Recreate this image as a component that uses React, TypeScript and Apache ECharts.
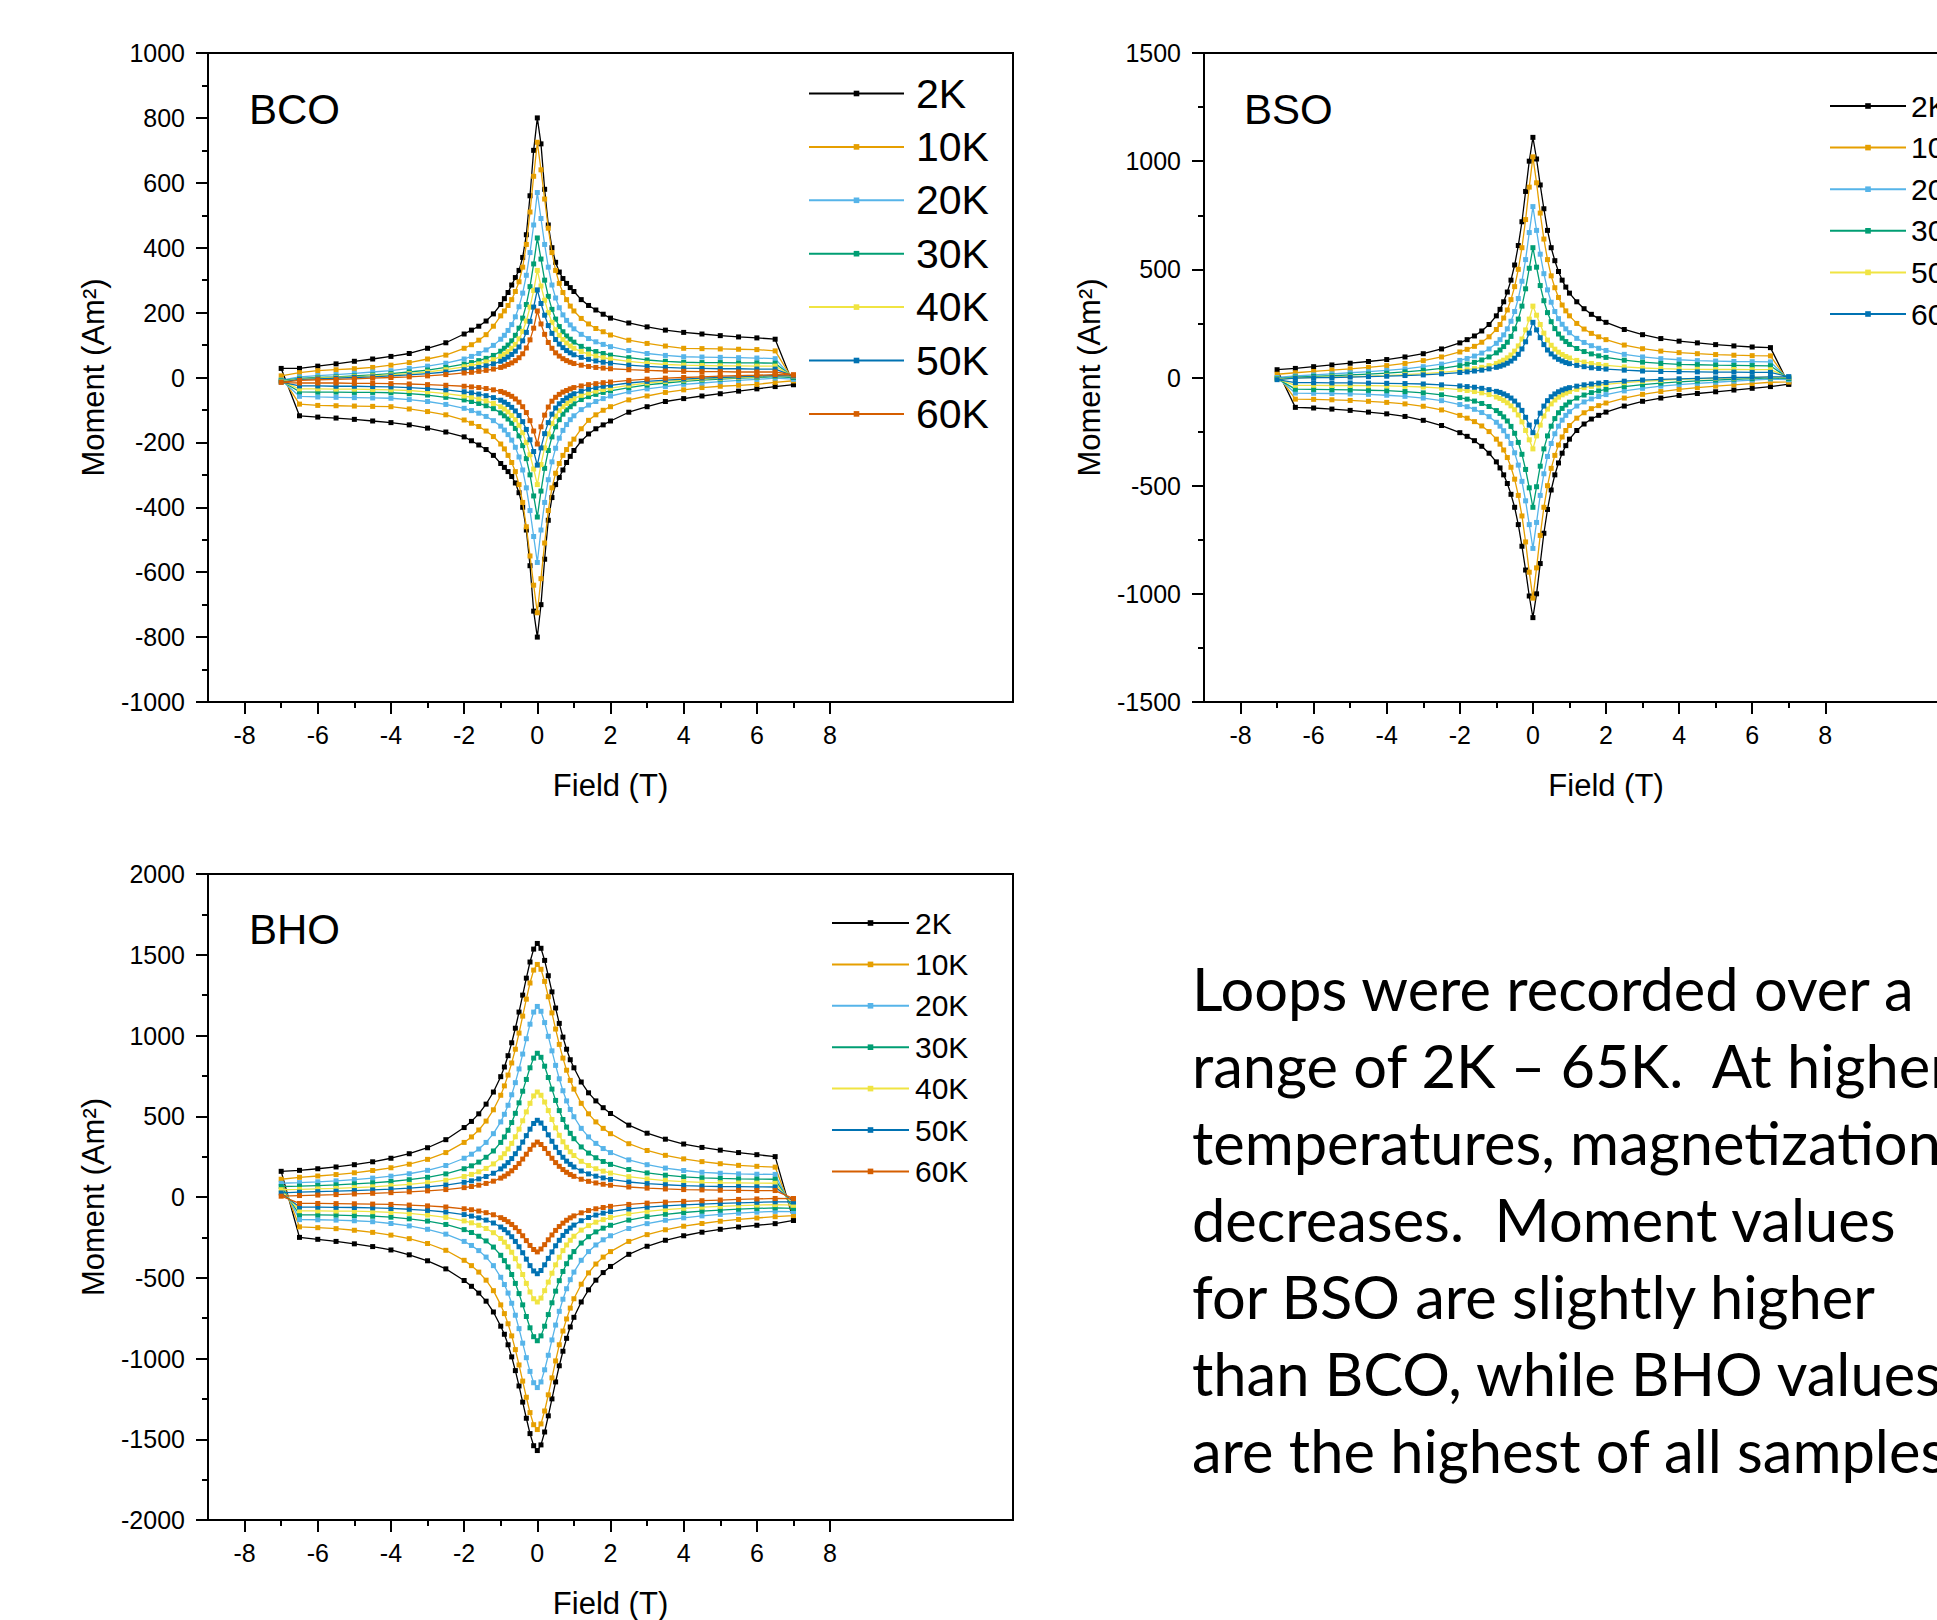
import React, { useEffect, useRef } from "react";
import * as echarts from "echarts";

// Field steps (T): the descending sweep runs from +7 T down to -7 T,
// the ascending sweep from -6.5 T back up to +7 T.
const FIELD_DOWN = [7, 6.5, 6, 5.5, 5, 4.5, 4, 3.5, 3, 2.5, 2, 1.8, 1.6, 1.4, 1.2, 1, 0.9, 0.8, 0.7, 0.6, 0.5, 0.4, 0.3, 0.2, 0.1, 0, -0.1, -0.2, -0.3, -0.4, -0.5, -0.6, -0.7, -0.8, -0.9, -1, -1.2, -1.4, -1.6, -1.8, -2, -2.5, -3, -3.5, -4, -4.5, -5, -5.5, -6, -6.5, -7];
const FIELD_UP = [-6.5, -6, -5.5, -5, -4.5, -4, -3.5, -3, -2.5, -2, -1.8, -1.6, -1.4, -1.2, -1, -0.9, -0.8, -0.7, -0.6, -0.5, -0.4, -0.3, -0.2, -0.1, 0, 0.1, 0.2, 0.3, 0.4, 0.5, 0.6, 0.7, 0.8, 0.9, 1, 1.2, 1.4, 1.6, 1.8, 2, 2.5, 3, 3.5, 4, 4.5, 5, 5.5, 6, 6.5, 7];

const TEMPS_BCO = ["2K", "10K", "20K", "30K", "40K", "50K", "60K"];
const TEMPS_BSO = ["2K", "10K", "20K", "30K", "50K", "60K"];
const TEMPS_BHO = ["2K", "10K", "20K", "30K", "40K", "50K", "60K"];

const X_MAJOR_TICKS = [-8, -6, -4, -2, 0, 2, 4, 6, 8];
const X_MINOR_TICKS = [-7, -5, -3, -1, 1, 3, 5, 7];

const PALETTE = ["#000000", "#E69F00", "#56B4E9", "#009E73", "#F0E442", "#0072B2", "#D55E00"];

// ---- BCO moment (Am²) ----
const BCO_2K_DOWN = [-22, 118, 122, 125, 129, 134, 139, 146, 156, 168, 183, 195, 208, 222, 240, 265, 277, 290, 305, 325, 355, 400, 470, 580, 720, 800, 700, 560, 440, 370, 330, 308, 285, 262, 243, 225, 196, 174, 158, 146, 134, 107, 90, 74, 65, 57, 50, 42, 35, 28, 28];
const BCO_2K_UP = [-118, -122, -125, -129, -134, -139, -146, -156, -168, -183, -195, -208, -222, -240, -265, -277, -290, -305, -325, -355, -400, -470, -580, -720, -800, -700, -560, -440, -370, -330, -308, -285, -262, -243, -225, -196, -174, -158, -146, -134, -107, -90, -74, -65, -57, -50, -42, -35, -28, -22];
const BCO_10K_DOWN = [-10, 82, 86, 87, 88, 89, 90, 97, 105, 115, 131, 141, 151, 165, 182, 205, 220, 240, 262, 290, 330, 385, 460, 550, 640, 725, 620, 510, 410, 340, 295, 265, 240, 222, 205, 190, 158, 132, 115, 101, 90, 69, 57, 46, 38, 31, 27, 24, 21, 15, 5];
const BCO_10K_UP = [-82, -86, -87, -88, -89, -90, -97, -105, -115, -131, -141, -151, -165, -182, -205, -220, -240, -262, -290, -330, -385, -460, -550, -640, -725, -620, -510, -410, -340, -295, -265, -240, -222, -205, -190, -158, -132, -115, -101, -90, -69, -57, -46, -38, -31, -27, -24, -21, -15, -10];
const BCO_20K_DOWN = [-5, 58, 60, 61, 62, 63, 64, 68, 74, 83, 95, 102, 110, 120, 133, 150, 162, 176, 193, 215, 245, 285, 340, 410, 490, 570, 470, 385, 315, 260, 218, 187, 163, 145, 130, 118, 99, 85, 74, 65, 57, 44, 35, 28, 21, 17, 13, 9, 6, 2, -8];
const BCO_20K_UP = [-58, -60, -61, -62, -63, -64, -68, -74, -83, -95, -102, -110, -120, -133, -150, -162, -176, -193, -215, -245, -285, -340, -410, -490, -570, -470, -385, -315, -260, -218, -187, -163, -145, -130, -118, -99, -85, -74, -65, -57, -44, -35, -28, -21, -17, -13, -9, -6, -2, -5];
const BCO_30K_DOWN = [0, 44, 45, 45, 46, 46, 47, 50, 54, 61, 69, 74, 80, 87, 96, 109, 118, 128, 141, 157, 180, 210, 250, 300, 365, 430, 350, 280, 225, 183, 152, 130, 113, 100, 90, 81, 68, 59, 52, 46, 41, 31, 23, 17, 12, 8, 5, 2, 0, -3, -10];
const BCO_30K_UP = [-44, -45, -45, -46, -46, -47, -50, -54, -61, -69, -74, -80, -87, -96, -109, -118, -128, -141, -157, -180, -210, -250, -300, -365, -430, -350, -280, -225, -183, -152, -130, -113, -100, -90, -81, -68, -59, -52, -46, -41, -31, -23, -17, -12, -8, -5, -2, 0, 3, 0];
const BCO_40K_DOWN = [3, 35, 35, 36, 36, 37, 38, 40, 44, 50, 57, 61, 66, 72, 80, 90, 97, 106, 117, 130, 147, 170, 200, 238, 282, 330, 268, 217, 174, 142, 119, 102, 90, 80, 72, 65, 55, 48, 42, 37, 33, 24, 17, 12, 8, 5, 2, 0, -2, -5, -12];
const BCO_40K_UP = [-35, -35, -36, -36, -37, -38, -40, -44, -50, -57, -61, -66, -72, -80, -90, -97, -106, -117, -130, -147, -170, -200, -238, -282, -330, -268, -217, -174, -142, -119, -102, -90, -80, -72, -65, -55, -48, -42, -37, -33, -24, -17, -12, -8, -5, -2, 0, 2, 5, 3];
const BCO_50K_DOWN = [5, 26, 26, 27, 27, 28, 29, 31, 34, 38, 44, 47, 51, 56, 62, 70, 76, 83, 92, 103, 117, 136, 160, 192, 228, 270, 217, 173, 139, 113, 94, 81, 71, 63, 56, 50, 42, 36, 31, 27, 24, 17, 12, 8, 5, 2, 0, -2, -4, -6, -14];
const BCO_50K_UP = [-26, -26, -27, -27, -28, -29, -31, -34, -38, -44, -47, -51, -56, -62, -70, -76, -83, -92, -103, -117, -136, -160, -192, -228, -270, -217, -173, -139, -113, -94, -81, -71, -63, -56, -50, -42, -36, -31, -27, -24, -17, -12, -8, -5, -2, 0, 2, 4, 6, 5];
const BCO_60K_DOWN = [8, 17, 17, 17, 18, 18, 19, 20, 22, 24, 27, 29, 31, 34, 38, 43, 47, 52, 58, 66, 76, 90, 108, 133, 165, 205, 152, 116, 91, 73, 61, 52, 45, 40, 35, 31, 26, 22, 19, 16, 14, 9, 5, 2, 0, -2, -4, -6, -7, -9, -15];
const BCO_60K_UP = [-17, -17, -17, -18, -18, -19, -20, -22, -24, -27, -29, -31, -34, -38, -43, -47, -52, -58, -66, -76, -90, -108, -133, -165, -205, -152, -116, -91, -73, -61, -52, -45, -40, -35, -31, -26, -22, -19, -16, -14, -9, -5, -2, 0, 2, 4, 6, 7, 9, 8];

// ---- BSO moment (Am²) ----
const BSO_2K_DOWN = [-31, 138, 141, 146, 152, 160, 168, 180, 198, 222, 255, 272, 292, 318, 350, 390, 418, 450, 490, 540, 600, 680, 780, 890, 1010, 1110, 1000, 860, 720, 610, 520, 450, 395, 350, 315, 285, 245, 215, 192, 175, 160, 132, 110, 95, 83, 74, 66, 58, 50, 42, 36];
const BSO_2K_UP = [-138, -141, -146, -152, -160, -168, -180, -198, -222, -255, -272, -292, -318, -350, -390, -418, -450, -490, -540, -600, -680, -780, -890, -1010, -1110, -1000, -860, -720, -610, -520, -450, -395, -350, -315, -285, -245, -215, -192, -175, -160, -132, -110, -95, -83, -74, -66, -58, -50, -42, -31];
const BSO_10K_DOWN = [-20, 100, 101, 103, 106, 110, 115, 122, 133, 150, 175, 188, 204, 224, 250, 285, 308, 335, 370, 415, 470, 545, 640, 760, 900, 1020, 880, 730, 600, 500, 420, 360, 312, 275, 245, 222, 188, 163, 144, 130, 118, 95, 78, 65, 55, 47, 40, 34, 28, 22, 15];
const BSO_10K_UP = [-100, -101, -103, -106, -110, -115, -122, -133, -150, -175, -188, -204, -224, -250, -285, -308, -335, -370, -415, -470, -545, -640, -760, -900, -1020, -880, -730, -600, -500, -420, -360, -312, -275, -245, -222, -188, -163, -144, -130, -118, -95, -78, -65, -55, -47, -40, -34, -28, -22, -20];
const BSO_20K_DOWN = [-10, 72, 73, 74, 76, 78, 82, 87, 95, 107, 125, 135, 147, 162, 181, 207, 225, 246, 272, 305, 348, 405, 480, 570, 680, 790, 670, 545, 445, 365, 305, 260, 225, 197, 175, 158, 132, 113, 99, 88, 79, 62, 50, 40, 33, 27, 22, 17, 12, 7, 0];
const BSO_20K_UP = [-72, -73, -74, -76, -78, -82, -87, -95, -107, -125, -135, -147, -162, -181, -207, -225, -246, -272, -305, -348, -405, -480, -570, -680, -790, -670, -545, -445, -365, -305, -260, -225, -197, -175, -158, -132, -113, -99, -88, -79, -62, -50, -40, -33, -27, -22, -17, -12, -7, -10];
const BSO_30K_DOWN = [-5, 54, 55, 56, 57, 59, 61, 65, 71, 80, 93, 100, 109, 120, 134, 153, 166, 182, 201, 226, 258, 300, 355, 425, 510, 600, 505, 410, 330, 270, 225, 190, 163, 143, 127, 114, 95, 81, 70, 62, 55, 42, 33, 26, 20, 16, 12, 8, 5, 2, -5];
const BSO_30K_UP = [-54, -55, -56, -57, -59, -61, -65, -71, -80, -93, -100, -109, -120, -134, -153, -166, -182, -201, -226, -258, -300, -355, -425, -510, -600, -505, -410, -330, -270, -225, -190, -163, -143, -127, -114, -95, -81, -70, -62, -55, -42, -33, -26, -20, -16, -12, -8, -5, -2, -5];
const BSO_50K_DOWN = [0, 36, 36, 37, 37, 38, 39, 41, 44, 49, 56, 60, 65, 71, 79, 90, 97, 106, 117, 131, 149, 173, 205, 245, 288, 330, 270, 220, 178, 146, 122, 104, 91, 80, 72, 65, 55, 47, 41, 36, 32, 24, 18, 13, 9, 6, 4, 2, 0, -2, -8];
const BSO_50K_UP = [-36, -36, -37, -37, -38, -39, -41, -44, -49, -56, -60, -65, -71, -79, -90, -97, -106, -117, -131, -149, -173, -205, -245, -288, -330, -270, -220, -178, -146, -122, -104, -91, -80, -72, -65, -55, -47, -41, -36, -32, -24, -18, -13, -9, -6, -4, -2, 0, 2, 0];
const BSO_60K_DOWN = [3, 24, 24, 25, 25, 26, 27, 28, 30, 34, 39, 42, 45, 50, 56, 64, 69, 76, 84, 95, 109, 127, 152, 184, 220, 255, 205, 165, 132, 107, 89, 76, 66, 58, 52, 47, 40, 34, 30, 26, 23, 17, 12, 9, 6, 4, 2, 0, -1, -3, -10];
const BSO_60K_UP = [-24, -24, -25, -25, -26, -27, -28, -30, -34, -39, -42, -45, -50, -56, -64, -69, -76, -84, -95, -109, -127, -152, -184, -220, -255, -205, -165, -132, -107, -89, -76, -66, -58, -52, -47, -40, -34, -30, -26, -23, -17, -12, -9, -6, -4, -2, 0, 1, 3, 3];

// ---- BHO moment (Am²) ----
const BHO_2K_DOWN = [-145, 250, 262, 275, 290, 307, 328, 358, 395, 445, 517, 553, 595, 645, 712, 800, 850, 915, 990, 1075, 1170, 1270, 1370, 1465, 1540, 1570, 1535, 1455, 1355, 1250, 1145, 1045, 955, 875, 805, 745, 650, 575, 515, 468, 430, 355, 305, 268, 240, 218, 200, 186, 175, 165, 159];
const BHO_2K_UP = [-250, -262, -275, -290, -307, -328, -358, -395, -445, -517, -553, -595, -645, -712, -800, -850, -915, -990, -1075, -1170, -1270, -1370, -1465, -1540, -1570, -1535, -1455, -1355, -1250, -1145, -1045, -955, -875, -805, -745, -650, -575, -515, -468, -430, -355, -305, -268, -240, -218, -200, -186, -175, -165, -145];
const BHO_10K_DOWN = [-115, 185, 190, 196, 206, 219, 236, 258, 288, 330, 392, 425, 465, 515, 580, 668, 722, 785, 860, 945, 1040, 1140, 1240, 1335, 1410, 1440, 1405, 1325, 1225, 1120, 1015, 915, 830, 755, 688, 630, 540, 470, 415, 372, 338, 275, 233, 203, 181, 164, 150, 139, 130, 122, 110];
const BHO_10K_UP = [-185, -190, -196, -206, -219, -236, -258, -288, -330, -392, -425, -465, -515, -580, -668, -722, -785, -860, -945, -1040, -1140, -1240, -1335, -1410, -1440, -1405, -1325, -1225, -1120, -1015, -915, -830, -755, -688, -630, -540, -470, -415, -372, -338, -275, -233, -203, -181, -164, -150, -139, -130, -122, -115];
const BHO_20K_DOWN = [-90, 140, 141, 143, 147, 153, 164, 179, 200, 230, 275, 300, 332, 372, 425, 497, 542, 595, 658, 732, 815, 905, 995, 1080, 1150, 1180, 1145, 1070, 980, 885, 793, 708, 633, 568, 512, 465, 392, 338, 297, 265, 240, 195, 165, 144, 129, 117, 108, 100, 94, 89, 85];
const BHO_20K_UP = [-140, -141, -143, -147, -153, -164, -179, -200, -230, -275, -300, -332, -372, -425, -497, -542, -595, -658, -732, -815, -905, -995, -1080, -1150, -1180, -1145, -1070, -980, -885, -793, -708, -633, -568, -512, -465, -392, -338, -297, -265, -240, -195, -165, -144, -129, -117, -108, -100, -94, -89, -90];
const BHO_30K_DOWN = [-70, 110, 111, 112, 115, 119, 125, 135, 149, 170, 202, 220, 243, 272, 310, 361, 394, 433, 480, 535, 598, 668, 740, 810, 865, 890, 860, 800, 728, 655, 583, 518, 461, 413, 372, 338, 285, 246, 216, 193, 175, 143, 122, 107, 96, 88, 81, 75, 71, 67, 65];
const BHO_30K_UP = [-110, -111, -112, -115, -119, -125, -135, -149, -170, -202, -220, -243, -272, -310, -361, -394, -433, -480, -535, -598, -668, -740, -810, -865, -890, -860, -800, -728, -655, -583, -518, -461, -413, -372, -338, -285, -246, -216, -193, -175, -143, -122, -107, -96, -88, -81, -75, -71, -67, -70];
const BHO_40K_DOWN = [-50, 85, 86, 87, 88, 91, 95, 102, 112, 126, 148, 160, 175, 195, 221, 257, 280, 308, 342, 382, 428, 480, 535, 588, 630, 650, 626, 580, 527, 472, 420, 373, 332, 297, 268, 243, 205, 177, 156, 140, 127, 104, 89, 78, 70, 63, 58, 53, 50, 47, 45];
const BHO_40K_UP = [-85, -86, -87, -88, -91, -95, -102, -112, -126, -148, -160, -175, -195, -221, -257, -280, -308, -342, -382, -428, -480, -535, -588, -630, -650, -626, -580, -527, -472, -420, -373, -332, -297, -268, -243, -205, -177, -156, -140, -127, -104, -89, -78, -70, -63, -58, -53, -50, -47, -50];
const BHO_50K_DOWN = [-30, 62, 63, 64, 65, 67, 71, 76, 83, 93, 109, 118, 129, 143, 161, 186, 202, 222, 246, 275, 308, 345, 385, 425, 458, 475, 455, 420, 380, 340, 302, 268, 238, 213, 192, 174, 147, 127, 112, 100, 91, 74, 63, 55, 49, 44, 40, 36, 33, 30, 25];
const BHO_50K_UP = [-62, -63, -64, -65, -67, -71, -76, -83, -93, -109, -118, -129, -143, -161, -186, -202, -222, -246, -275, -308, -345, -385, -425, -458, -475, -455, -420, -380, -340, -302, -268, -238, -213, -192, -174, -147, -127, -112, -100, -91, -74, -63, -55, -49, -44, -40, -36, -33, -30, -30];
const BHO_60K_DOWN = [-10, 40, 40, 41, 42, 44, 46, 50, 55, 62, 73, 79, 87, 97, 110, 128, 139, 153, 170, 190, 213, 240, 270, 300, 325, 340, 322, 295, 265, 235, 207, 183, 162, 144, 129, 117, 98, 84, 73, 65, 58, 46, 38, 32, 27, 23, 19, 15, 12, 9, 5];
const BHO_60K_UP = [-40, -40, -41, -42, -44, -46, -50, -55, -62, -73, -79, -87, -97, -110, -128, -139, -153, -170, -190, -213, -240, -270, -300, -325, -340, -322, -295, -265, -235, -207, -183, -162, -144, -129, -117, -98, -84, -73, -65, -58, -46, -38, -32, -27, -23, -19, -15, -12, -9, -10];

const NOTE_LINES = [
  "Loops were recorded over a",
  "range of 2K \u2013 65K.\u00a0 At higher",
  "temperatures, magnetization",
  "decreases.\u00a0 Moment values",
  "for BSO are slightly higher",
  "than BCO, while BHO values",
  "are the highest of all samples",
];

const FONT = "'Liberation Sans', Arial, Helvetica, sans-serif";
const NOTE_FONT = "Lato, 'Open Sans', sans-serif";

// Drawing surface is wider than the visible page so the right panel can run past the edge.
const VIEW_W = 1937;
const VIEW_H = 1620;
const CANVAS_W = 2020;

const PANELS = [
  {
    key: "BCO",
    temps: TEMPS_BCO,
    down: [BCO_2K_DOWN, BCO_10K_DOWN, BCO_20K_DOWN, BCO_30K_DOWN, BCO_40K_DOWN, BCO_50K_DOWN, BCO_60K_DOWN],
    up: [BCO_2K_UP, BCO_10K_UP, BCO_20K_UP, BCO_30K_UP, BCO_40K_UP, BCO_50K_UP, BCO_60K_UP],
    yMax: 1000,
    yStep: 200,
    rect: { left: 208, top: 53, width: 805, height: 649 },
    title: { x: 249, y: 109 },
    legend: { left: 808, top: 73, itemWidth: 95, fontSize: 41, lineHeight: 40, itemGap: 12.4, textPad: 7 },
  },
  {
    key: "BSO",
    temps: TEMPS_BSO,
    down: [BSO_2K_DOWN, BSO_10K_DOWN, BSO_20K_DOWN, BSO_30K_DOWN, BSO_50K_DOWN, BSO_60K_DOWN],
    up: [BSO_2K_UP, BSO_10K_UP, BSO_20K_UP, BSO_30K_UP, BSO_50K_UP, BSO_60K_UP],
    yMax: 1500,
    yStep: 500,
    rect: { left: 1204, top: 53, width: 804, height: 649 },
    title: { x: 1244, y: 109 },
    legend: { left: 1829, top: 91, itemWidth: 76, fontSize: 30, lineHeight: 30, itemGap: 11.6, textPad: 0 },
  },
  {
    key: "BHO",
    temps: TEMPS_BHO,
    down: [BHO_2K_DOWN, BHO_10K_DOWN, BHO_20K_DOWN, BHO_30K_DOWN, BHO_40K_DOWN, BHO_50K_DOWN, BHO_60K_DOWN],
    up: [BHO_2K_UP, BHO_10K_UP, BHO_20K_UP, BHO_30K_UP, BHO_40K_UP, BHO_50K_UP, BHO_60K_UP],
    yMax: 2000,
    yStep: 500,
    rect: { left: 208, top: 874, width: 805, height: 648 },
    title: { x: 249, y: 929 },
    legend: { left: 831, top: 908, itemWidth: 77, fontSize: 30, lineHeight: 30, itemGap: 11.4, textPad: 1 },
  },
];

function loopPoints(down: number[], up: number[]) {
  const pts: number[][] = [];
  FIELD_DOWN.forEach((x, i) => pts.push([x, down[i]]));
  FIELD_UP.forEach((x, i) => pts.push([x, up[i]]));
  return pts;
}

function buildOption() {
  const axisColor = { color: "#000", width: 2 };
  const grid: any[] = [];
  const xAxis: any[] = [];
  const yAxis: any[] = [];
  const series: any[] = [];
  const legend: any[] = [];
  const graphic: any[] = [];

  PANELS.forEach((p, i) => {
    grid.push({ ...p.rect, show: true, borderColor: "#000", borderWidth: 2, backgroundColor: "transparent" });

    xAxis.push({
      type: "value",
      gridIndex: i,
      min: -9,
      max: 13,
      position: "bottom",
      axisLine: { show: true, onZero: false, lineStyle: axisColor },
      axisTick: { show: true, customValues: X_MAJOR_TICKS, length: 12, lineStyle: axisColor },
      axisLabel: {
        customValues: X_MAJOR_TICKS,
        formatter: (v: number) => String(v),
        color: "#000",
        fontSize: 25,
        fontFamily: FONT,
        margin: 20,
      },
      splitLine: { show: false },
      name: "Field (T)",
      nameLocation: "middle",
      nameGap: 68,
      nameTextStyle: { color: "#000", fontSize: 31, fontFamily: FONT },
    });
    // second bottom axis carries only the minor ticks
    xAxis.push({
      type: "value",
      gridIndex: i,
      min: -9,
      max: 13,
      position: "bottom",
      axisLine: { show: false, onZero: false },
      axisTick: { show: true, customValues: X_MINOR_TICKS, length: 6, lineStyle: axisColor },
      axisLabel: { show: false },
      splitLine: { show: false },
    });

    yAxis.push({
      type: "value",
      gridIndex: i,
      min: -p.yMax,
      max: p.yMax,
      interval: p.yStep,
      position: "left",
      axisLine: { show: true, onZero: false, lineStyle: axisColor },
      axisTick: { show: true, length: 12, lineStyle: axisColor },
      minorTick: { show: true, splitNumber: 2, length: 6, lineStyle: axisColor },
      axisLabel: {
        formatter: (v: number) => String(v),
        color: "#000",
        fontSize: 25,
        fontFamily: FONT,
        margin: 23,
      },
      splitLine: { show: false },
      minorSplitLine: { show: false },
      name: "Moment (Am\u00b2)",
      nameLocation: "middle",
      nameRotate: 90,
      nameGap: 99,
      nameTextStyle: { color: "#000", fontSize: 31, fontFamily: FONT },
    });

    p.temps.forEach((t, k) => {
      const color = PALETTE[k];
      series.push({
        type: "line",
        name: `${p.key} ${t}`,
        xAxisIndex: 2 * i,
        yAxisIndex: i,
        data: loopPoints(p.down[k], p.up[k]),
        symbol: "rect",
        symbolSize: 5,
        showAllSymbol: true,
        smooth: false,
        silent: true,
        emphasis: { disabled: true },
        lineStyle: { color, width: 1.3 },
        itemStyle: { color },
        z: 2 + k,
      });
    });

    legend.push({
      orient: "vertical",
      left: p.legend.left,
      top: p.legend.top,
      padding: 0,
      itemWidth: p.legend.itemWidth,
      itemHeight: 7,
      itemGap: p.legend.itemGap,
      selectedMode: false,
      data: p.temps.map((t) => `${p.key} ${t}`),
      formatter: (name: string) => name.split(" ")[1],
      textStyle: {
        color: "#000",
        fontSize: p.legend.fontSize,
        lineHeight: p.legend.lineHeight,
        fontFamily: FONT,
        padding: [0, 0, 0, p.legend.textPad],
      },
    });

    graphic.push({
      type: "text",
      x: p.title.x,
      y: p.title.y,
      silent: true,
      style: { text: p.key, fontSize: 42, fontFamily: FONT, fill: "#000", verticalAlign: "middle", align: "left" },
    });
  });

  NOTE_LINES.forEach((line, j) => {
    graphic.push({
      type: "text",
      x: 1192,
      y: 988 + j * 77,
      silent: true,
      style: { text: line, fontSize: 59.6, fontFamily: NOTE_FONT, fill: "#000", verticalAlign: "middle", align: "left" },
    });
  });

  return { animation: false, grid, xAxis, yAxis, series, legend, graphic };
}

export default function App() {
  const ref = useRef<HTMLDivElement>(null);
  useEffect(() => {
    if (!ref.current) return;
    const chart = echarts.init(ref.current, undefined, { renderer: "svg" });
    chart.setOption(buildOption() as any);
    return () => chart.dispose();
  }, []);
  return (
    <div
      style={{
        position: "absolute",
        left: 0,
        top: 0,
        width: VIEW_W,
        height: VIEW_H,
        overflow: "hidden",
        background: "#fff",
      }}
    >
      <div ref={ref} style={{ width: CANVAS_W, height: VIEW_H }} />
    </div>
  );
}
